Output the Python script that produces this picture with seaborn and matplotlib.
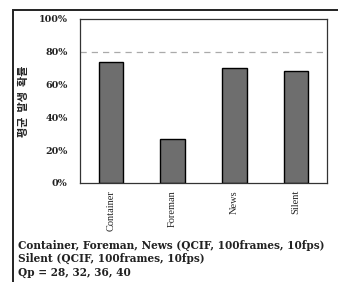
import matplotlib
matplotlib.use("Agg")
import matplotlib.pyplot as plt
import seaborn as sns
import pandas as pd
from matplotlib.patches import Rectangle

sequences = ["Container", "Foreman", "News", "Silent"]
probability = [74, 27, 70, 68]
y_ticks = [0, 20, 40, 60, 80, 100]
notes = ["Container, Foreman, News (QCIF, 100frames, 10fps)",
         "Silent (QCIF, 100frames, 10fps)",
         "Qp = 28, 32, 36, 40"]

sns.set_style("white")
plt.rcParams['font.family'] = ['Liberation Serif', 'DejaVu Serif']

df = pd.DataFrame({'seq': sequences, 'prob': probability})

fig = plt.figure(figsize=(3.38, 2.82), dpi=100)
ax = fig.add_axes([80 / 338, 1 - 183 / 282, 247 / 338, 164 / 282])

sns.barplot(data=df, x='seq', y='prob', color='#6e6e6e', width=0.4,
            edgecolor='black', linewidth=1.0, saturation=1, ax=ax)
ax.axhline(80, color='#aaaaaa', linestyle=(0, (5, 4)), linewidth=0.9, zorder=0)

ax.set_xlim(-0.5, 3.5)
ax.set_ylim(0, 100)
ax.set_yticks(y_ticks)
ax.set_yticklabels([f"{t}%" for t in y_ticks], fontsize=6.8, fontweight='bold',
                   family=['DejaVu Serif'], color='#222222')
ax.set_xticks(range(len(sequences)))
ax.set_xticklabels(sequences, rotation=90, fontsize=7.5)
ax.tick_params(axis='y', length=0, pad=9)
ax.tick_params(axis='x', length=0, pad=5)
ax.set_xlabel('')
ax.set_ylabel('')
for s in ax.spines.values():
    s.set_color('#333333')
    s.set_linewidth(0.9)

fig.text(24 / 338, 1 - 101 / 282, "평균  발생  확률", rotation=90, fontsize=8,
         family=['Noto Sans CJK KR'], ha='center', va='center', fontweight='bold')

for i, line in enumerate(notes):
    fig.text(18 / 338, 1 - (245 + i * 13.5) / 282, line, fontsize=7.6,
             fontweight='bold', ha='left', va='center', color='#222222',
             family=['DejaVu Serif'])

fig.patches.append(Rectangle((13 / 338, -0.05), 1.2, 1 - 10 / 282 + 0.05,
                             transform=fig.transFigure, fill=False,
                             edgecolor='#222222', linewidth=1.4))

fig.savefig("out.png", dpi=100)
